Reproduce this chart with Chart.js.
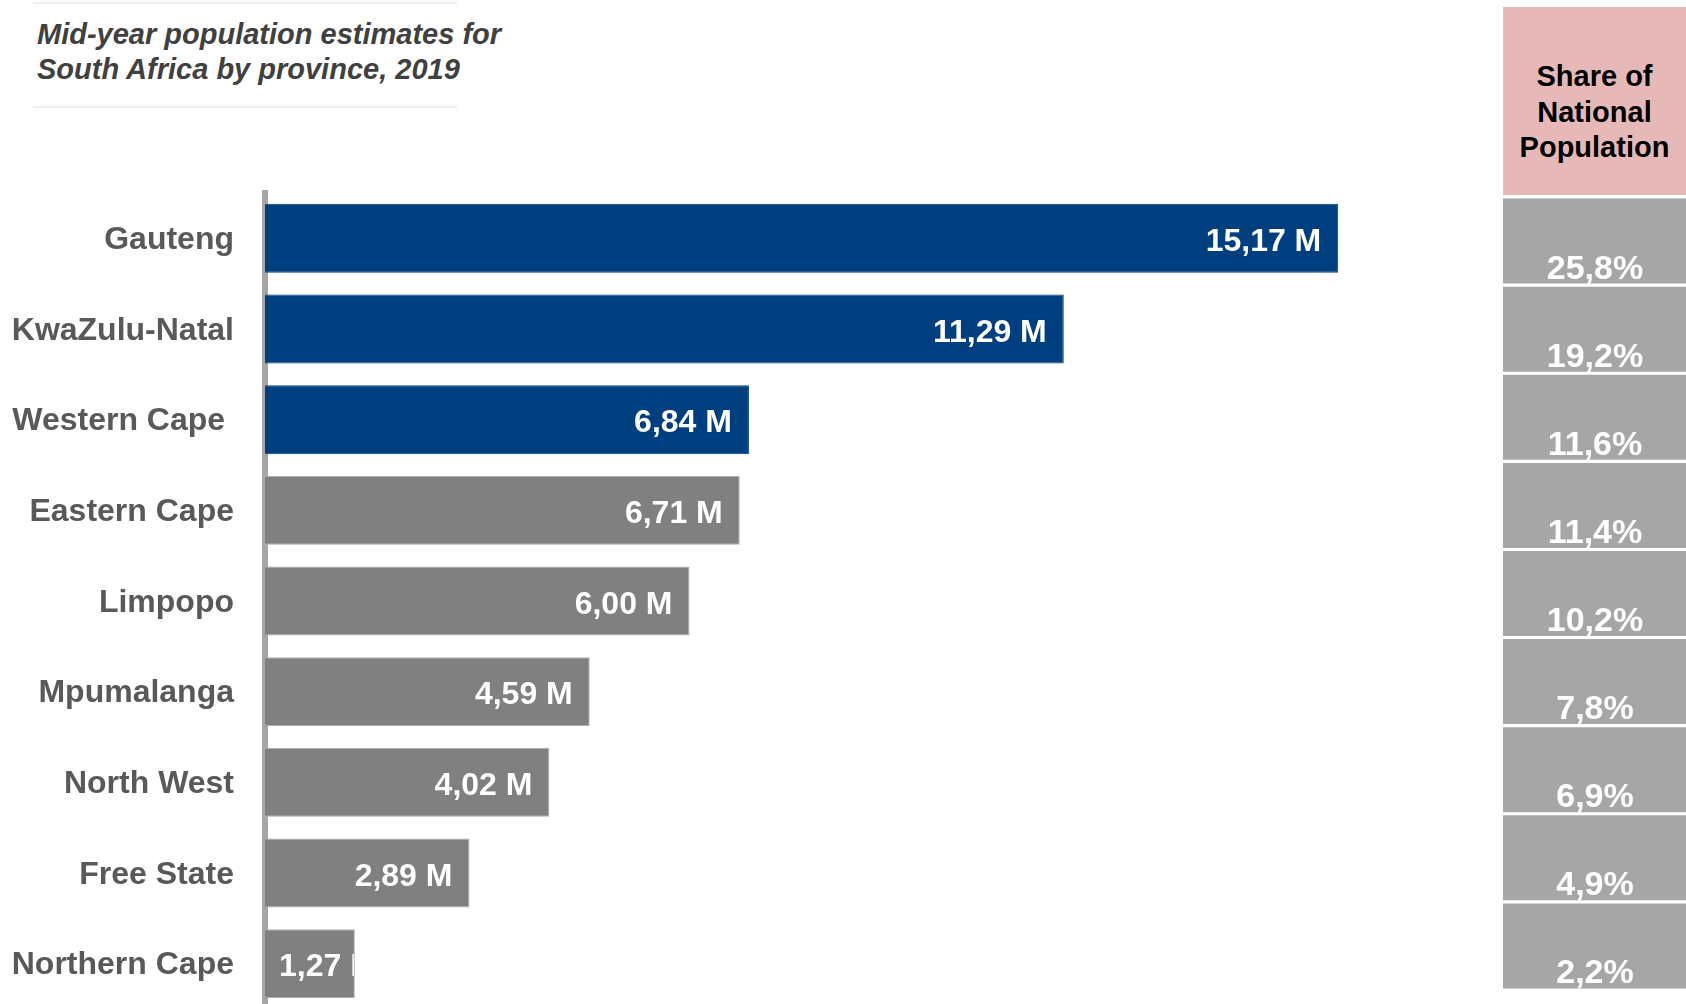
<!DOCTYPE html>
<html>
<head>
<meta charset="utf-8">
<script src="https://cdn.jsdelivr.net/npm/chart.js@4.4.1/dist/chart.umd.min.js"></script>
<style>
  html, body { margin: 0; padding: 0; width: 1686px; height: 1004px; overflow: hidden; background: #fff; }
  body { position: relative; font-family: 'Liberation Sans', Arial, sans-serif; }
  #title {
    position: absolute; left: 37px; top: 17px;
    font-size: 29px; line-height: 35px; font-weight: bold; font-style: italic; color: #404040;
  }
  .rule { position: absolute; left: 33px; width: 424px; height: 2px; background: #eeeeee; }
  #share-head {
    position: absolute; left: 1503px; top: 7px; width: 183px; height: 188px;
    background: #e6b8b7; color: #000; text-align: center;
    font-size: 29px; line-height: 35.5px; font-weight: bold;
    box-sizing: border-box; padding-top: 52px;
  }
  #main { position: absolute; left: 0; top: 0; }
  #share { position: absolute; left: 1503px; top: 197px; }
</style>
</head>
<body>
<div class="rule" style="top:2px"></div>
<div id="title">Mid-year population estimates for<br>South Africa by province, 2019</div>
<div class="rule" style="top:106px"></div>
<div id="share-head">Share of<br>National<br>Population</div>
<canvas id="main" width="1397" height="1010"></canvas>
<canvas id="share" width="190" height="793"></canvas>
<script>
const provinces  = ['Gauteng', 'KwaZulu-Natal', 'Western Cape ', 'Eastern Cape', 'Limpopo',
                    'Mpumalanga', 'North West', 'Free State', 'Northern Cape'];
const population = [15.17, 11.29, 6.84, 6.71, 6.00, 4.59, 4.02, 2.89, 1.27];   // millions
const share      = [25.8, 19.2, 11.6, 11.4, 10.2, 7.8, 6.9, 4.9, 2.2];          // percent

const FONT = "'Liberation Sans', Arial, sans-serif";
const NAVY = '#003f7f';
const GREY = '#808080';

const fmt = (v, d) => v.toFixed(d).replace('.', ',');

// value labels inside bar ends, clipped to the bar
const barLabels = {
  id: 'barLabels',
  afterDatasetsDraw(chart) {
    const ctx = chart.ctx;
    const meta = chart.getDatasetMeta(0);
    ctx.save();
    ctx.font = 'bold 32px ' + FONT;
    ctx.fillStyle = '#fff';
    ctx.textBaseline = 'middle';
    meta.data.forEach((bar, i) => {
      const txt = fmt(population[i], 2) + ' M';
      const w = ctx.measureText(txt).width;
      const left = bar.base, right = bar.x - 1, h = bar.height - 2;
      ctx.save();
      ctx.beginPath();
      ctx.rect(left, bar.y - h / 2, right - left, h);
      ctx.clip();
      if (w + 36 < right - left) {
        ctx.textAlign = 'right';
        ctx.fillText(txt, right - 16, bar.y + 4);
      } else {
        ctx.textAlign = 'left';
        ctx.fillText(txt, left + 14, bar.y + 4);
      }
      ctx.restore();
    });
    ctx.restore();
  }
};

new Chart(document.getElementById('main'), {
  type: 'bar',
  data: {
    labels: provinces,
    datasets: [{
      data: population,
      backgroundColor: population.map((v, i) => i < 3 ? NAVY : GREY),
      borderColor: population.map((v, i) => i < 3 ? NAVY : '#b0b0b0'),
      borderWidth: 1,
      barPercentage: 0.761,
      categoryPercentage: 1
    }]
  },
  options: {
    indexAxis: 'y',
    responsive: false,
    animation: false,
    devicePixelRatio: 1,
    layout: { padding: { top: 193, bottom: 1, right: 0, left: 0 } },
    plugins: { legend: { display: false }, tooltip: { enabled: false } },
    scales: {
      x: { display: false, min: 0, max: 16 },
      y: {
        afterFit(scale) {
          scale.width = 265;
          scale.paddingTop = 0;
          scale.paddingBottom = 0;
        },
        grid: { display: false, drawTicks: false },
        border: { display: true, color: '#a6a6a6', width: 6 },
        ticks: {
          color: '#595959', padding: 31, labelOffset: 2,
          font: { family: FONT, size: 32, weight: 'bold' }
        }
      }
    }
  },
  plugins: [barLabels]
});

// share of national population column
const shareLabels = {
  id: 'shareLabels',
  afterDatasetsDraw(chart) {
    const ctx = chart.ctx;
    const meta = chart.getDatasetMeta(0);
    ctx.save();
    ctx.font = 'bold 34px ' + FONT;
    ctx.fillStyle = '#fff';
    ctx.textAlign = 'center';
    ctx.textBaseline = 'alphabetic';
    meta.data.forEach((bar, i) => {
      ctx.fillText(fmt(share[i], 1) + '%', 92, bar.y + bar.height / 2 - 5);
    });
    ctx.restore();
  }
};

new Chart(document.getElementById('share'), {
  type: 'bar',
  data: {
    labels: provinces,
    datasets: [{
      data: share.map(() => [0, 1]),
      backgroundColor: '#a6a6a6',
      barPercentage: 0.965,
      categoryPercentage: 1
    }]
  },
  options: {
    indexAxis: 'y',
    responsive: false,
    animation: false,
    devicePixelRatio: 1,
    layout: { padding: 0 },
    plugins: { legend: { display: false }, tooltip: { enabled: false } },
    scales: {
      x: { display: false, min: 0, max: 1 },
      y: { display: false }
    }
  },
  plugins: [shareLabels]
});
</script>
</body>
</html>
